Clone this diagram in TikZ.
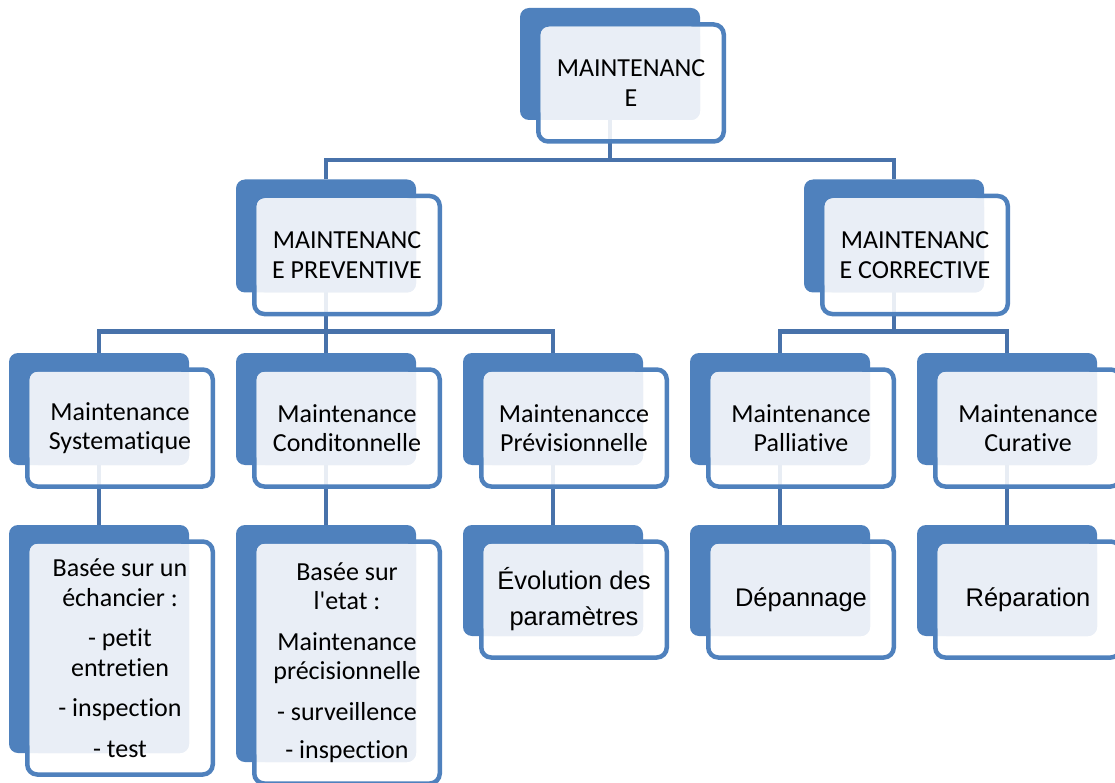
\documentclass[tikz,border=0pt]{standalone}
\usepackage{fontspec}
\setmainfont{Carlito}[Ligatures=NoCommon]
\newfontfamily\arialfont{Liberation Sans}
\usetikzlibrary{calc}
\pgfdeclarelayer{links}
\pgfsetlayers{links,main}
\definecolor{boxblue}{RGB}{79,129,189}
\definecolor{linkblue}{RGB}{72,114,170}
\definecolor{paleblue}{RGB}{233,238,246}
% back tab, framed front card, pale text area, text
\def\tierbox#1#2#3#4#5#6{%
	\node[backbox, minimum height=#4pt] (#1) at (#2,#3) {};
	\node[frontbox, minimum height=#4pt+5pt] (#1-f) at ($(#1)+(21,19)$) {};
	\fill[paleblue, rounded corners=9pt] ([shift={(2.25,2.25)}]#1-f.north west) rectangle (#1.south east);
	\node[#5] (#1-t) at (#1-f) {#6};
}

\begin{document}
\begin{tikzpicture}[x=1pt, y=-1pt,
		backbox/.style={fill=boxblue, rounded corners=9pt, minimum width=180pt, inner sep=0pt, outer sep=0pt},
		frontbox/.style={draw=boxblue, line width=4.5pt, fill=white, fill opacity=0.88, rounded corners=10pt, minimum width=185.5pt, inner sep=0pt, outer sep=0pt},
		calitext/.style={align=center, text=black, font=\fontsize{26}{29.5}\selectfont},
		arialtext/.style={align=center, text=black, font=\arialfont\fontsize{25.5}{36}\selectfont},
		link/.style={draw=linkblue, line width=4.5pt}]
	%%%%% START %%%%%
	\useasboundingbox (0,0) rectangle (1115,783);
	
	\tierbox{top}{610}{64}{112}{calitext}{MAINTENANC\\E}
	
	\tierbox{prev}{326}{236}{113}{calitext}{MAINTENANC\\E PREVENTIVE}
	\tierbox{corr}{894}{236}{113}{calitext}{MAINTENANC\\E CORRECTIVE}
	
	\tierbox{syst}{99}{409}{112}{calitext}{Maintenance\\Systematique}
	\tierbox{cond}{326}{409}{112}{calitext}{Maintenance\\Conditonnelle}
	\tierbox{prevs}{553}{409}{112}{calitext}{Maintenancce\\Prévisionnelle}
	\tierbox{pall}{780}{409}{112}{calitext}{Maintenance\\Palliative}
	\tierbox{cura}{1007}{409}{112}{calitext}{Maintenance\\Curative}
	
	\tierbox{ech}{99}{639}{228}{calitext}{Basée sur un\\échancier :\\[11pt]- petit\\entretien\\[11pt]- inspection\\[11pt]- test}
	\tierbox{etat}{326}{643.5}{237}{calitext}{Basée sur\\l\textquotesingle etat :\\[11pt]Maintenance\\précisionnelle\\[11pt]- surveillence\\[9pt]- inspection}
	\tierbox{evol}{553}{580.5}{111}{arialtext}{Évolution des\\paramètres}
	\tierbox{depa}{780}{580.5}{111}{arialtext}{Dépannage}
	\tierbox{repa}{1007}{580.5}{111}{arialtext}{Réparation}
	
	\begin{pgfonlayer}{links}
		\draw[link] (top.south) -- ++(0,40) coordinate (j1);
		\draw[link] (prev.north) |- (j1) -| (corr.north);
		
		\draw[link] (prev.south) -- ++(0,39) coordinate (j2);
		\draw[link] (syst.north) |- (j2) -| (prevs.north);
		\draw[link] (j2) -- (cond.north);
		
		\draw[link] (corr.south) -- ++(0,39) coordinate (j3);
		\draw[link] (pall.north) |- (j3) -| (cura.north);
		
		\draw[link] (syst.south) -- (ech.north);
		\draw[link] (cond.south) -- (etat.north);
		\draw[link] (prevs.south) -- (evol.north);
		\draw[link] (pall.south) -- (depa.north);
		\draw[link] (cura.south) -- (repa.north);
	\end{pgfonlayer}
	%%%%% END %%%%%
\end{tikzpicture}
\end{document}
